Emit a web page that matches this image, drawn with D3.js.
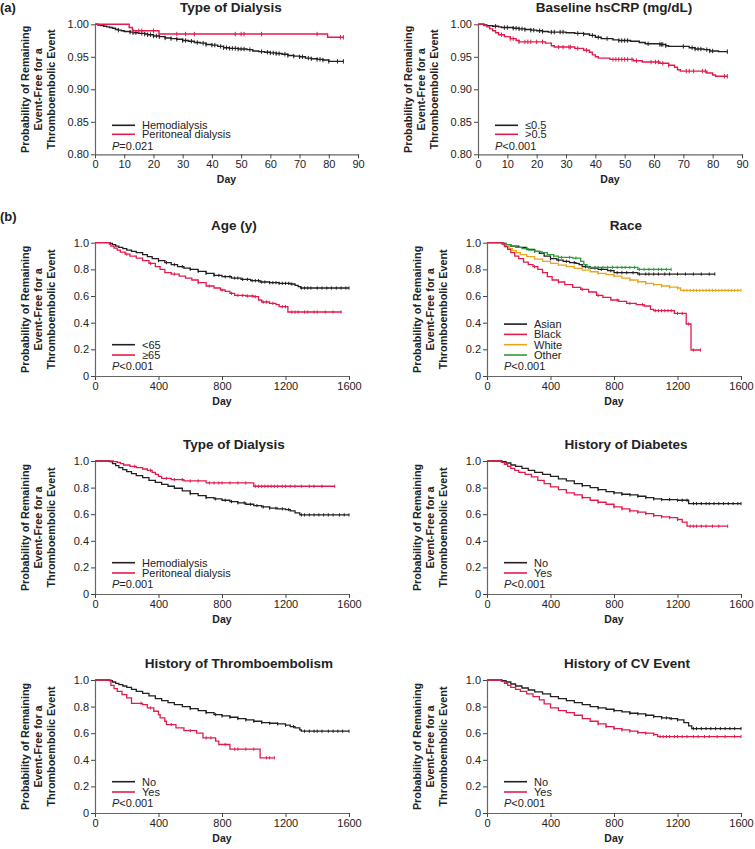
<!DOCTYPE html>
<html><head><meta charset="utf-8">
<script src="https://cdn.jsdelivr.net/npm/d3@7"></script>
<style>body{margin:0;background:#fff} text{font-family:"Liberation Sans",Arial,Helvetica,sans-serif;fill:#222}</style>
</head><body><svg id="c" width="755" height="849"></svg>
<script>
// ---------- tick labels ----------
const aXTicks = [0,10,20,30,40,50,60,70,80,90];
const aYTicks = [0.80,0.85,0.90,0.95,1.00];
const bXTicks = [0,400,800,1200,1600];
const bYTicks = [0,0.2,0.4,0.6,0.8,1.0];
const yLabelLines = ["Probability of Remaining","Event-Free for a","Thromboembolic Event"];
const titles = ["Type of Dialysis","Baseline hsCRP (mg/dL)","Age (y)","Race","Type of Dialysis","History of Diabetes","History of Thromboembolism","History of CV Event"];
const pTexts = ["=0.021","<0.001","<0.001","<0.001","=0.001","<0.001","<0.001","<0.001"];

// ---------- (a) Type of Dialysis, 90 days ----------
const aDialLabels = ["Hemodialysis","Peritoneal dialysis"];
const aHemoSteps = [[1,0.999],[2,0.998],[3,0.997],[4,0.996],[5,0.995],[6,0.994],[7,0.992],[8,0.991],[9,0.990],[10,0.989],[12,0.988],[13,0.987],[15,0.986],[17,0.985],[18,0.984],[20,0.982],[22,0.981],[24,0.979],[26,0.978],[28,0.977],[30,0.975],[32,0.974],[34,0.972],[36,0.971],[38,0.969],[40,0.968],[42,0.966],[44,0.964],[46,0.963],[49,0.962],[52,0.961],[54,0.959],[56,0.958],[58,0.957],[60,0.956],[62,0.955],[64,0.954],[66,0.952],[68,0.951],[70,0.950],[72,0.948],[74,0.947],[76,0.946],[78,0.945],[80,0.943]];
const aHemoCensor = [8,12,13,14,16,17,18,19,20,21,22,24,26,28,30,31,33,35,37,38,40,41,43,44,45,46,47,48,49,50,51,53,57,59,60,61,62,63,65,66,68,70,71,73,74,76,77,78,80,83,85];
const aPeriSteps = [[11.7,0.995],[12.8,0.990],[21.9,0.985],[79.6,0.980]];
const aPeriCensor = [13,15,16,20,28,31,34,48,50,51,57,76,84,85];

// ---------- (a) Baseline hsCRP ----------
const crpLabels = ["\u22640.5",">0.5"];
const crpLowSteps = [[2,0.999],[3,0.998],[5,0.997],[7,0.996],[8,0.995],[12,0.994],[14,0.993],[16,0.992],[18,0.991],[20,0.990],[22,0.989],[24,0.988],[30,0.987],[33,0.986],[36,0.985],[38,0.983],[40,0.980],[42,0.978],[46,0.976],[48,0.975],[52,0.974],[55,0.972],[57,0.970],[62,0.969],[64,0.967],[65,0.966],[72,0.964],[74,0.962],[77,0.961],[79,0.959],[82,0.958]];
const crpLowCensor = [6,9,10,12,13,14,15,16,18,19,21,22,25,26,28,29,34,36,39,41,44,48,49,50,51,58,62,62.5,63,64,70,73,74,75,76,78,79,80,85];
const crpHighSteps = [[2,0.998],[3,0.996],[4,0.993],[5,0.990],[6,0.987],[7,0.984],[9,0.981],[11,0.978],[13,0.975],[14,0.973],[23,0.971],[25,0.967],[26,0.965],[33,0.963],[36,0.960],[38,0.957],[39,0.953],[40,0.950],[41,0.948],[45,0.946],[53,0.944],[56,0.942],[62,0.940],[65,0.937],[67,0.934],[68,0.930],[69,0.928],[78,0.925],[80,0.922],[81,0.920]];
const crpHighCensor = [8,11,12,14,16,17,18,20,22,27.5,29,31,31.5,34,37,46,47,48,49,50,51,52.5,54,59,60.5,61.5,63,65,71,72,73.5,76.5,77.5,84,85];

// ---------- (b) Age ----------
const ageLabels = ["<65","\u226565"];
const ageYoungSteps = [[95,0.995],[110,0.985],[130,0.975],[150,0.965],[175,0.955],[200,0.945],[230,0.935],[260,0.925],[300,0.91],[330,0.895],[360,0.88],[400,0.865],[440,0.85],[480,0.835],[520,0.82],[560,0.81],[600,0.80],[650,0.785],[700,0.77],[750,0.755],[800,0.745],[860,0.735],[920,0.725],[980,0.715],[1040,0.705],[1100,0.70],[1160,0.695],[1230,0.69],[1260,0.68],[1280,0.67],[1295,0.66]];
const ageYoungCensor = [400,450,500,550,600,650,700,750,780,820,850,880,900,930,960,990,1010,1030,1050,1070,1100,1120,1140,1160,1180,1200,1220,1240,1300,1320,1340,1360,1400,1430,1460,1490,1520,1550,1580,1600];
const ageOldSteps = [[90,0.99],[100,0.975],[120,0.96],[140,0.945],[160,0.93],[190,0.915],[220,0.90],[260,0.885],[300,0.865],[340,0.845],[380,0.82],[410,0.80],[440,0.775],[480,0.765],[530,0.75],[570,0.735],[610,0.72],[650,0.70],[700,0.675],[750,0.66],[790,0.645],[820,0.635],[850,0.62],[880,0.605],[950,0.60],[1000,0.595],[1030,0.57],[1050,0.555],[1100,0.545],[1140,0.535],[1160,0.52],[1215,0.48]];
const ageOldCensor = [200,350,500,650,720,800,860,900,930,960,990,1010,1060,1080,1120,1180,1200,1240,1260,1280,1320,1340,1380,1400,1450,1500,1550];

// ---------- (b) Race ----------
const raceLabels = ["Asian","Black","White","Other"];
const asianSteps = [[100,0.995],[120,0.985],[150,0.975],[200,0.965],[250,0.95],[300,0.935],[330,0.92],[360,0.90],[400,0.88],[440,0.87],[480,0.86],[520,0.85],[560,0.845],[580,0.835],[600,0.82],[650,0.81],[700,0.80],[760,0.79],[800,0.775],[950,0.765]];
const asianCensor = [300,400,450,500,550,620,680,720,780,820,850,880,920,960,1000,1020,1050,1080,1120,1150,1200,1250,1300,1350,1400,1435];
const blackSteps = [[95,0.99],[110,0.97],[130,0.95],[150,0.925],[175,0.90],[200,0.88],[230,0.855],[260,0.835],[290,0.82],[320,0.80],[350,0.775],[380,0.745],[410,0.72],[450,0.705],[490,0.685],[540,0.665],[590,0.65],[640,0.63],[690,0.605],[730,0.59],[780,0.57],[830,0.56],[880,0.545],[940,0.535],[990,0.525],[1030,0.50],[1050,0.49],[1180,0.47],[1255,0.39],[1285,0.195]];
const blackCensor = [300,450,600,700,820,900,980,1060,1080,1100,1120,1140,1160,1200,1230,1270,1300,1345];
const whiteSteps = [[95,0.995],[105,0.985],[120,0.97],[140,0.955],[160,0.94],[185,0.925],[210,0.91],[250,0.895],[300,0.877],[350,0.86],[400,0.845],[450,0.832],[500,0.82],[550,0.807],[600,0.795],[650,0.782],[700,0.77],[750,0.76],[800,0.75],[850,0.735],[900,0.72],[950,0.707],[1000,0.695],[1050,0.685],[1100,0.675],[1150,0.667],[1200,0.66],[1220,0.642]];
const whiteCensor = [700,800,900,950,1000,1050,1100,1150,1200,1240,1260,1280,1300,1320,1340,1360,1380,1400,1420,1440,1460,1480,1500,1520,1540,1560,1580,1600];
const otherSteps = [[100,0.995],[120,0.985],[150,0.975],[180,0.965],[220,0.955],[260,0.945],[300,0.935],[340,0.925],[380,0.91],[420,0.90],[450,0.89],[540,0.885],[590,0.86],[610,0.835],[630,0.815],[950,0.80]];
const otherCensor = [250,300,350,420,470,520,560,640,680,700,730,760,790,820,850,870,900,930,960,990,1020,1050,1080,1100,1130,1160];

// ---------- (b) Type of Dialysis ----------
const bDialLabels = ["Hemodialysis","Peritoneal dialysis"];
const bHemoSteps = [[90,0.995],[110,0.98],[130,0.965],[150,0.95],[175,0.935],[200,0.92],[230,0.905],[260,0.89],[300,0.875],[340,0.855],[380,0.84],[420,0.825],[460,0.81],[500,0.795],[550,0.775],[600,0.755],[650,0.74],[700,0.725],[750,0.715],[800,0.705],[850,0.695],[900,0.685],[950,0.675],[1000,0.665],[1050,0.655],[1100,0.645],[1150,0.64],[1200,0.635],[1230,0.625],[1260,0.61],[1290,0.595]];
const bHemoCensor = [600,700,760,820,860,900,940,980,1020,1060,1100,1140,1180,1220,1300,1320,1350,1380,1410,1440,1470,1500,1540,1570,1600];
const bPeriSteps = [[115,0.995],[140,0.99],[160,0.98],[180,0.97],[220,0.96],[260,0.95],[300,0.94],[330,0.93],[360,0.915],[380,0.90],[400,0.885],[420,0.87],[480,0.86],[560,0.85],[700,0.835],[1000,0.81]];
const bPeriCensor = [250,350,450,500,550,600,650,720,750,780,800,850,900,950,1010,1030,1050,1070,1090,1110,1130,1150,1180,1200,1230,1260,1300,1350,1380,1430,1510];

// ---------- (b) History of Diabetes ----------
const noYesLabels = ["No","Yes"];
const diabNoSteps = [[95,0.995],[120,0.985],[150,0.97],[180,0.96],[220,0.945],[260,0.93],[300,0.915],[350,0.90],[400,0.885],[450,0.865],[500,0.85],[550,0.83],[600,0.815],[650,0.80],[700,0.785],[750,0.77],[800,0.76],[850,0.75],[900,0.745],[950,0.735],[1000,0.725],[1050,0.715],[1100,0.71],[1200,0.705],[1270,0.68]];
const diabNoCensor = [600,700,800,850,900,950,1000,1050,1100,1150,1200,1230,1260,1300,1320,1350,1380,1400,1430,1460,1490,1520,1550,1580,1600];
const diabYesSteps = [[90,0.99],[110,0.975],[130,0.96],[150,0.945],[175,0.93],[200,0.915],[240,0.90],[280,0.88],[320,0.855],[360,0.83],[400,0.805],[450,0.785],[500,0.76],[550,0.745],[600,0.725],[650,0.705],[700,0.69],[750,0.675],[800,0.655],[850,0.64],[900,0.625],[950,0.615],[1000,0.605],[1050,0.59],[1100,0.58],[1150,0.575],[1200,0.56],[1230,0.54],[1260,0.51]];
const diabYesCensor = [600,700,800,850,900,950,1000,1050,1100,1150,1200,1280,1300,1320,1350,1380,1420,1460,1516];

// ---------- (b) History of Thromboembolism ----------
const thrNoSteps = [[90,0.995],[110,0.985],[130,0.975],[150,0.965],[175,0.955],[200,0.945],[230,0.93],[260,0.915],[300,0.90],[340,0.88],[380,0.86],[420,0.845],[460,0.83],[500,0.815],[550,0.80],[600,0.785],[650,0.77],[700,0.755],[750,0.74],[800,0.73],[850,0.72],[900,0.71],[950,0.70],[1000,0.69],[1050,0.68],[1100,0.675],[1150,0.67],[1200,0.66],[1230,0.65],[1260,0.64],[1290,0.625],[1300,0.615]];
const thrNoCensor = [600,700,760,800,850,900,950,1000,1050,1100,1150,1200,1250,1320,1350,1380,1400,1430,1470,1500,1530,1560,1600];
const thrYesSteps = [[100,0.96],[120,0.935],[140,0.915],[170,0.89],[200,0.865],[230,0.825],[300,0.815],[330,0.79],[370,0.765],[400,0.74],[410,0.715],[440,0.69],[450,0.665],[510,0.64],[560,0.62],[640,0.60],[680,0.565],[760,0.54],[780,0.515],[850,0.48],[1040,0.415]];
const thrYesCensor = [290,350,480,600,700,730,820,880,900,950,1000,1080,1100,1130];

// ---------- (b) History of CV Event ----------
const cvNoSteps = [[95,0.995],[120,0.985],[150,0.97],[180,0.955],[220,0.94],[260,0.925],[300,0.91],[350,0.895],[400,0.875],[450,0.86],[500,0.845],[550,0.83],[600,0.815],[650,0.80],[700,0.79],[750,0.78],[800,0.77],[850,0.76],[900,0.75],[950,0.745],[1000,0.735],[1050,0.725],[1100,0.715],[1150,0.71],[1200,0.70],[1240,0.68],[1270,0.655],[1290,0.635]];
const cvNoCensor = [700,800,900,950,1000,1050,1100,1130,1160,1200,1300,1320,1350,1380,1410,1440,1470,1500,1530,1560,1600];
const cvYesSteps = [[90,0.99],[110,0.975],[130,0.96],[150,0.945],[180,0.93],[210,0.915],[250,0.895],[290,0.875],[330,0.85],[360,0.82],[400,0.79],[450,0.77],[500,0.755],[550,0.735],[600,0.71],[650,0.69],[700,0.67],[750,0.65],[800,0.635],[850,0.625],[900,0.615],[950,0.605],[1000,0.60],[1050,0.59],[1075,0.575]];
const cvYesCensor = [700,750,800,850,900,950,1000,1050,1090,1110,1130,1150,1180,1200,1230,1260,1300,1330,1370,1400,1450,1500,1560,1600];

// ---------- colours ----------
const BLK = "#231f20", RED = "#e31b4b", YEL = "#e9a61c", GRN = "#2f9a3c";

const svg = d3.select("#c");
const fmtA = d3.format(".2f");
const fmtB = d => d === 0 ? "0" : d3.format(".1f")(d);

const S = (steps, censor, color, label) => ({steps, censor, color, label});

const panels = [
  {x0:95,x1:358,y0:24.3,y1:154.3,xd:[0,90],yd:[0.8,1],xt:aXTicks,yt:aYTicks,yf:fmtA,tx:231,kind:"a",
   series:[S(aHemoSteps,aHemoCensor,BLK,aDialLabels[0]),S(aPeriSteps,aPeriCensor,RED,aDialLabels[1])]},
  {x0:478,x1:742,y0:24.3,y1:154.3,xd:[0,90],yd:[0.8,1],xt:aXTicks,yt:aYTicks,yf:fmtA,tx:614,kind:"a",
   series:[S(crpLowSteps,crpLowCensor,BLK,crpLabels[0]),S(crpHighSteps,crpHighCensor,RED,crpLabels[1])]},
  {x0:95,x1:349,y0:242.7,y1:376,xd:[0,1600],yd:[0,1],xt:bXTicks,yt:bYTicks,yf:fmtB,tx:234,kind:"b",
   series:[S(ageYoungSteps,ageYoungCensor,BLK,ageLabels[0]),S(ageOldSteps,ageOldCensor,RED,ageLabels[1])]},
  {x0:487,x1:741,y0:242.7,y1:376,xd:[0,1600],yd:[0,1],xt:bXTicks,yt:bYTicks,yf:fmtB,tx:626,kind:"b",
   series:[S(whiteSteps,whiteCensor,YEL,raceLabels[2]),S(asianSteps,asianCensor,BLK,raceLabels[0]),S(otherSteps,otherCensor,GRN,raceLabels[3]),S(blackSteps,blackCensor,RED,raceLabels[1])],
   legendOrder:[1,3,0,2]},
  {x0:95,x1:349,y0:461,y1:594,xd:[0,1600],yd:[0,1],xt:bXTicks,yt:bYTicks,yf:fmtB,tx:234,kind:"b",
   series:[S(bHemoSteps,bHemoCensor,BLK,bDialLabels[0]),S(bPeriSteps,bPeriCensor,RED,bDialLabels[1])]},
  {x0:487,x1:741,y0:461,y1:594,xd:[0,1600],yd:[0,1],xt:bXTicks,yt:bYTicks,yf:fmtB,tx:626,kind:"b",
   series:[S(diabNoSteps,diabNoCensor,BLK,noYesLabels[0]),S(diabYesSteps,diabYesCensor,RED,noYesLabels[1])]},
  {x0:95,x1:349,y0:680,y1:813,xd:[0,1600],yd:[0,1],xt:bXTicks,yt:bYTicks,yf:fmtB,tx:239,kind:"b",
   series:[S(thrNoSteps,thrNoCensor,BLK,noYesLabels[0]),S(thrYesSteps,thrYesCensor,RED,noYesLabels[1])]},
  {x0:487,x1:741,y0:680,y1:813,xd:[0,1600],yd:[0,1],xt:bXTicks,yt:bYTicks,yf:fmtB,tx:627,kind:"b",
   series:[S(cvNoSteps,cvNoCensor,BLK,noYesLabels[0]),S(cvYesSteps,cvYesCensor,RED,noYesLabels[1])]}
];

function survAt(steps, t){
  let s = 1;
  for (const [tt, ss] of steps) { if (tt <= t) s = ss; else break; }
  return s;
}

panels.forEach((p, i) => {
  const x = d3.scaleLinear().domain(p.xd).range([p.x0, p.x1]);
  const y = d3.scaleLinear().domain(p.yd).range([p.y1, p.y0]);
  const g = svg.append("g");

  // axes
  const ax = g.append("g").attr("transform", `translate(0,${p.y1})`)
    .call(d3.axisBottom(x).tickValues(p.xt).tickSize(4).tickSizeOuter(0).tickPadding(2).tickFormat(d3.format("d")));
  const ay = g.append("g").attr("transform", `translate(${p.x0},0)`)
    .call(d3.axisLeft(y).tickValues(p.yt).tickSize(4).tickSizeOuter(0).tickPadding(2).tickFormat(p.yf));
  [ax, ay].forEach(a => {
    a.select(".domain").attr("stroke", "#666").attr("stroke-width", 1.2);
    a.selectAll(".tick line").attr("stroke", "#444");
    a.selectAll(".tick text").style("font-size", "11px").attr("fill", "#222");
  });

  // title
  g.append("text").attr("x", p.tx).attr("y", p.y0 - 12.5).attr("text-anchor", "middle")
    .style("font-size", "13.5px").style("font-weight", "bold").text(titles[i]);

  // y label
  const cy = (p.y0 + p.y1) / 2;
  [70, 57, 44].forEach((off, k) => {
    g.append("text").attr("transform", `translate(${p.x0 - off},${cy}) rotate(-90)`)
      .attr("text-anchor", "middle").attr("dominant-baseline", "central")
      .style("font-size", "10.8px").style("font-weight", "bold").text(yLabelLines[k]);
  });

  // x label
  g.append("text").attr("x", (p.x0 + p.x1) / 2).attr("y", p.y1 + 25).attr("text-anchor", "middle")
    .attr("dominant-baseline", "central").style("font-size", "10.5px").style("font-weight", "bold").text("Day");

  // curves
  const line = d3.line().x(d => x(d[0])).y(d => y(d[1])).curve(d3.curveStepAfter);
  const h = p.kind === "a" ? 2.2 : 1.6;
  p.series.forEach(s => {
    const end = d3.max(s.censor);
    const last = s.steps[s.steps.length - 1][1];
    const pts = [[0, 1]].concat(s.steps).concat([[end, last]]);
    g.append("path").datum(pts).attr("d", line).attr("fill", "none")
      .attr("stroke", s.color).attr("stroke-width", p.kind === "a" ? 1.4 : 1.3);
    g.append("g").selectAll("line").data(s.censor).join("line")
      .attr("x1", d => x(d)).attr("x2", d => x(d))
      .attr("y1", d => y(survAt(s.steps, d)) - h).attr("y2", d => y(survAt(s.steps, d)) + h)
      .attr("stroke", s.color).attr("stroke-width", 1);
  });

  // legend
  const order = p.legendOrder || p.series.map((_, k) => k);
  const n = order.length;
  const sp = p.kind === "a" ? 9 : 10.3;
  const lastY = p.kind === "a" ? p.y1 - 20 : p.y1 - 21;
  order.forEach((si, k) => {
    const s = p.series[si];
    const ly = lastY - sp * (n - 1 - k);
    g.append("line").attr("x1", p.x0 + 17).attr("x2", p.x0 + 40).attr("y1", ly).attr("y2", ly)
      .attr("stroke", s.color).attr("stroke-width", 1.6);
    g.append("text").attr("x", p.x0 + 47).attr("y", ly).attr("dominant-baseline", "central")
      .style("font-size", "11px").text(s.label);
  });
  const pt = g.append("text").attr("x", p.x0 + 17).attr("y", p.kind === "a" ? p.y1 - 8 : p.y1 - 10.5)
    .attr("dominant-baseline", "central").style("font-size", "11px");
  pt.append("tspan").style("font-style", "italic").text("P");
  pt.append("tspan").text(pTexts[i]);
});

// panel letters
svg.append("text").attr("x", 0).attr("y", 12).style("font-size", "13px").style("font-weight", "bold").text("(a)");
svg.append("text").attr("x", 0).attr("y", 221).style("font-size", "13px").style("font-weight", "bold").text("(b)");
</script></body></html>
